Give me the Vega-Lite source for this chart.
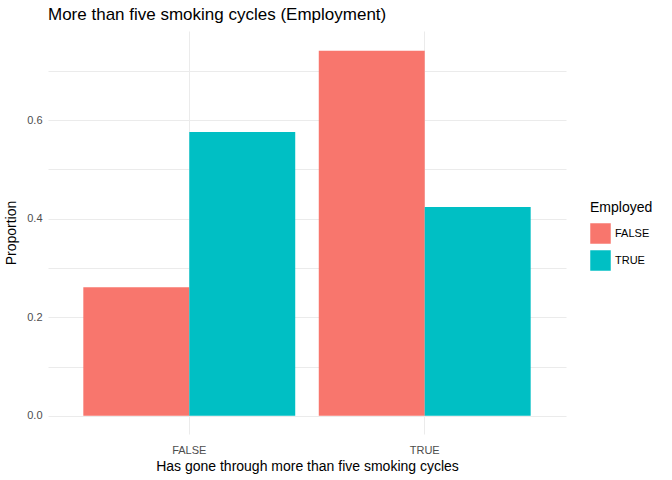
{
  "$schema": "https://vega.github.io/schema/vega-lite/v6.json",
  "width": 518,
  "height": 403,
  "autosize": {"type": "none"},
  "padding": {"left": 48, "top": 31, "right": 106, "bottom": 46},
  "background": "white",
  "title": {"text": "More than five smoking cycles (Employment)", "anchor": "start", "frame": "group", "fontSize": 17, "fontWeight": "normal", "font": "Liberation Sans", "color": "black", "offset": 7, "dx": 0},
  "config": {"view": {"stroke": null}, "font": "Liberation Sans"},
  "data": {"values": [
    {"cycles": "FALSE", "Employed": "FALSE", "Proportion": 0.261},
    {"cycles": "FALSE", "Employed": "TRUE", "Proportion": 0.576},
    {"cycles": "TRUE", "Employed": "FALSE", "Proportion": 0.741},
    {"cycles": "TRUE", "Employed": "TRUE", "Proportion": 0.424}
  ]},
  "mark": {"type": "bar"},
  "encoding": {
    "x": {"field": "cycles", "type": "nominal", "title": "Has gone through more than five smoking cycles",
      "scale": {"paddingInner": 0.1, "paddingOuter": 0.15},
      "axis": {"labelAngle": 0, "domain": false, "ticks": false, "grid": true, "gridColor": "#ebebeb", "labelColor": "#4d4d4d", "labelFontSize": 11, "titleFontSize": 14, "titleFontWeight": "normal", "titleColor": "black", "labelPadding": 10, "titlePadding": 4, "bandPosition": 0.5}},
    "xOffset": {"field": "Employed", "type": "nominal", "scale": {"paddingInner": 0}},
    "y": {"field": "Proportion", "type": "quantitative", "title": "Proportion",
      "scale": {"domain": [-0.037, 0.781], "nice": false, "zero": false},
      "axis": {"values": [0, 0.1, 0.2, 0.3, 0.4, 0.5, 0.6, 0.7], "labelExpr": "round(datum.value*10) % 2 == 0 ? format(datum.value, '.1f') : ''", "domain": false, "ticks": false, "gridColor": "#ebebeb", "labelColor": "#4d4d4d", "labelFontSize": 11, "titleFontSize": 14, "titleFontWeight": "normal", "titleColor": "black", "labelPadding": 6, "titlePadding": 8}},
    "color": {"field": "Employed", "type": "nominal",
      "scale": {"range": ["#F8766D", "#00BFC4"]},
      "legend": {"orient": "none", "legendX": 542, "legendY": 170, "titleFontSize": 14, "titleFontWeight": "normal", "titleColor": "black", "labelFontSize": 11, "labelColor": "black", "symbolType": "square", "symbolSize": 420, "symbolStrokeWidth": 0, "rowPadding": 6, "titlePadding": 8}}
  }
}
